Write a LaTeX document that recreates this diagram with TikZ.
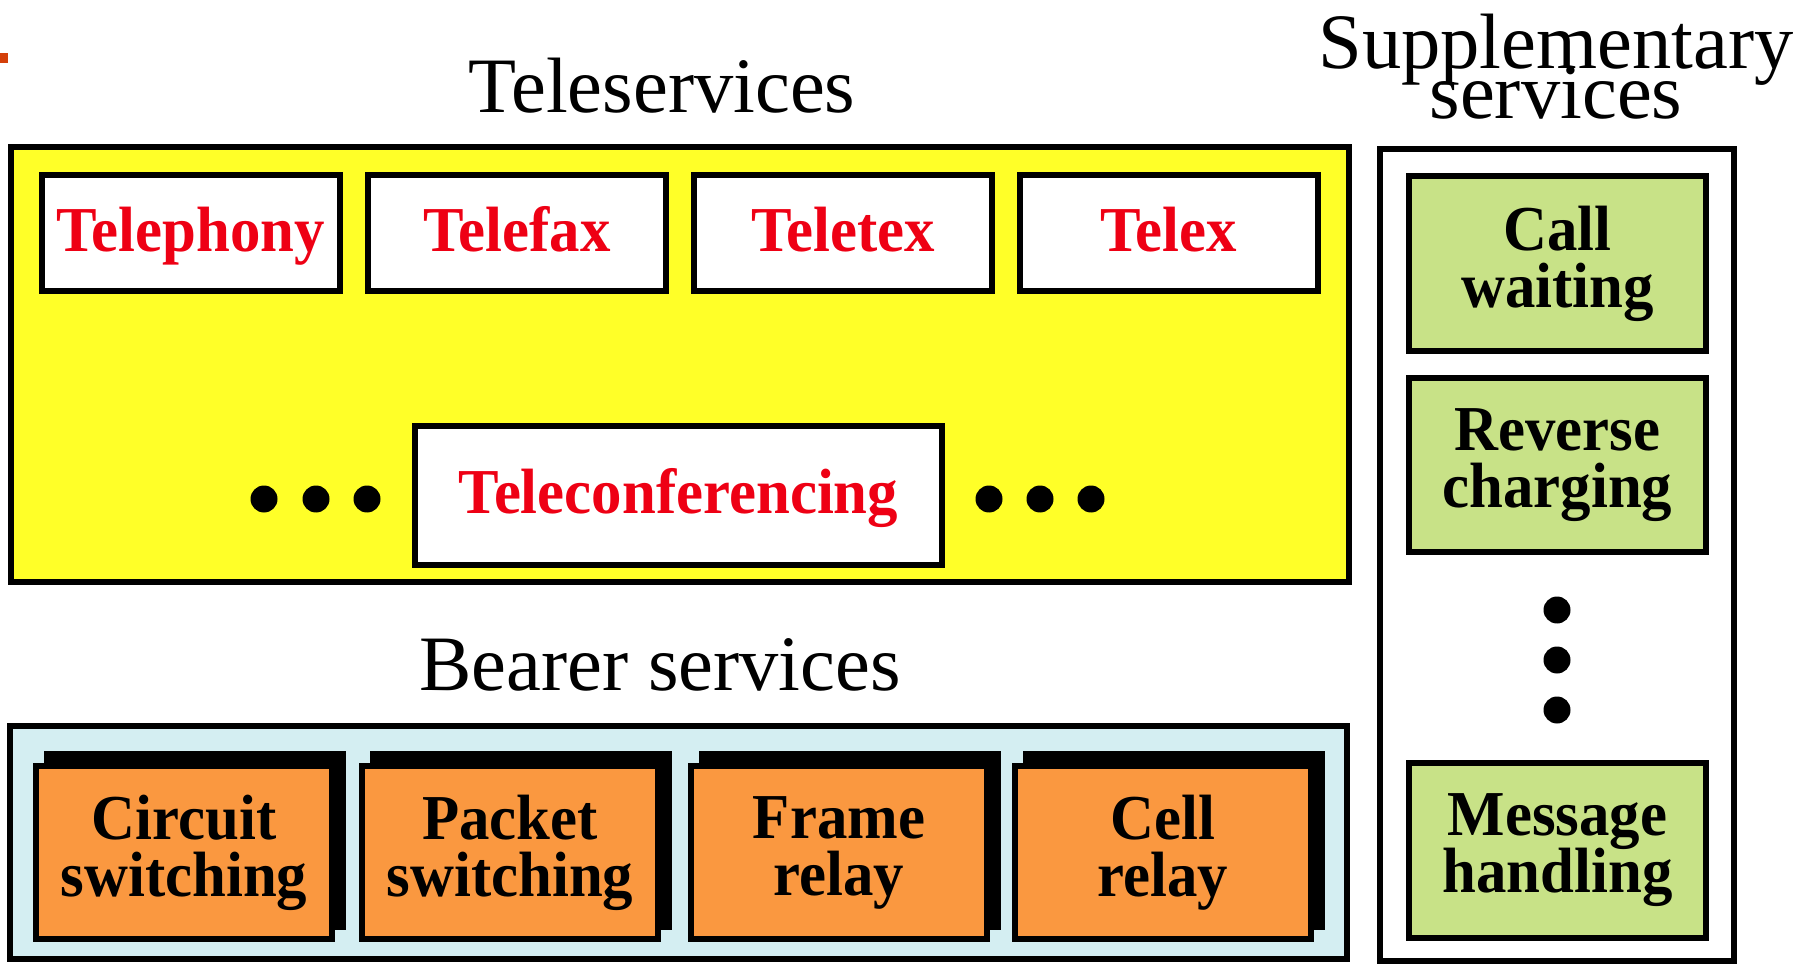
\documentclass[tikz,border=0pt]{standalone}
\usepackage{fontspec}
\setmainfont{Liberation Serif}
\newfontfamily\myboxfam[FakeStretch=0.95]{Liberation Serif}
\usetikzlibrary{shadows}
\definecolor{yellowc}{RGB}{255,255,40}
\definecolor{bluec}{RGB}{212,238,242}
\definecolor{orangec}{RGB}{250,152,64}
\definecolor{greenc}{RGB}{200,226,135}
\definecolor{redc}{RGB}{238,0,20}
\definecolor{markc}{RGB}{212,64,10}
\newcommand\mytightlines{\lineskiplimit=-200pt\relax\lineskip=0pt\relax}
\newcommand\mytitlefont{\fontsize{78.5}{50}\selectfont\mytightlines}
\newcommand\myboxfont{\myboxfam\fontsize{64}{57}\selectfont\bfseries\mytightlines}
\tikzset{
  panel/.style={draw, line width=6pt, inner sep=0pt},
  titletext/.style={font=\mytitlefont, inner sep=0pt, anchor=base},
  boxfont/.style={font=\myboxfont},
  redbox/.style={draw, line width=6pt, fill=white, inner sep=0pt, boxfont, text=redc,
    text height=44pt, text depth=8pt},
  gbox/.style={draw, line width=6pt, fill=greenc, inner sep=0pt, boxfont, align=center,
    minimum width=297pt},
  obox/.style={draw, line width=6pt, fill=orangec, inner sep=0pt, boxfont, align=center,
    minimum width=296pt, minimum height=173pt,
    drop shadow={shadow xshift=11pt, shadow yshift=12pt, fill=black, draw=black,
      line width=6pt, opacity=1}},
  dotmark/.style={circle, fill=black, minimum size=27pt, inner sep=0pt},
}
\begin{document}
\begin{tikzpicture}[x=1pt,y=-1pt]
\useasboundingbox (0,0) rectangle (1816,965);
\fill[markc] (0,53) rectangle (8,63);

% Teleservices
\node[panel, fill=yellowc, minimum width=1338pt, minimum height=435pt] (telepanel) at (680,364.5) {};
\node[titletext] (teletitle) at (662,113) {Teleservices};
\node[redbox, minimum width=298pt, minimum height=116pt] (telephony) at (191,233.5) {Telephony};
\node[redbox, minimum width=298pt, minimum height=116pt] (telefax) at (517,233.5) {Telefax};
\node[redbox, minimum width=298pt, minimum height=116pt] (teletex) at (843,233.5) {Teletex};
\node[redbox, minimum width=298pt, minimum height=116pt] (telex) at (1169,233.5) {Telex};
\node[redbox, minimum width=527pt, minimum height=139pt] (teleconf) at (678.5,495.5) {Teleconferencing};
\node[dotmark] (l1) at (264,499) {};
\node[dotmark] (l2) at (316,499) {};
\node[dotmark] (l3) at (367,499) {};
\node[dotmark] (r1) at (989,499) {};
\node[dotmark] (r2) at (1040,499) {};
\node[dotmark] (r3) at (1091,499) {};

% Supplementary services
\node[titletext, anchor=center, align=center] (supptitle) at (1556,67) {Supplementary\\services};
\node[panel, fill=white, minimum width=354pt, minimum height=812pt] (supppanel) at (1557,555) {};
\node[gbox, minimum height=175pt] (callw) at (1557.5,263.5) {Call\\waiting};
\node[gbox, minimum height=174pt] (revc) at (1557.5,465) {Reverse\\charging};
\node[dotmark] (v1) at (1557,610) {};
\node[dotmark] (v2) at (1557,660) {};
\node[dotmark] (v3) at (1557,710) {};
\node[gbox, minimum height=175pt] (msgh) at (1557.5,850.5) {Message\\handling};

% Bearer services
\node[titletext] (beartitle) at (660,690) {Bearer services};
\node[panel, fill=bluec, minimum width=1337pt, minimum height=233pt] (bearpanel) at (678.5,842.5) {};
\node[obox] (circ) at (184,852.5) {Circuit\\switching};
\node[obox] (pack) at (510,852.5) {Packet\\switching};
\node[obox] (frame) at (839,852.5) {Frame\\relay};
\node[obox] (cell) at (1163,852.5) {Cell\\relay};
\end{tikzpicture}
\end{document}
